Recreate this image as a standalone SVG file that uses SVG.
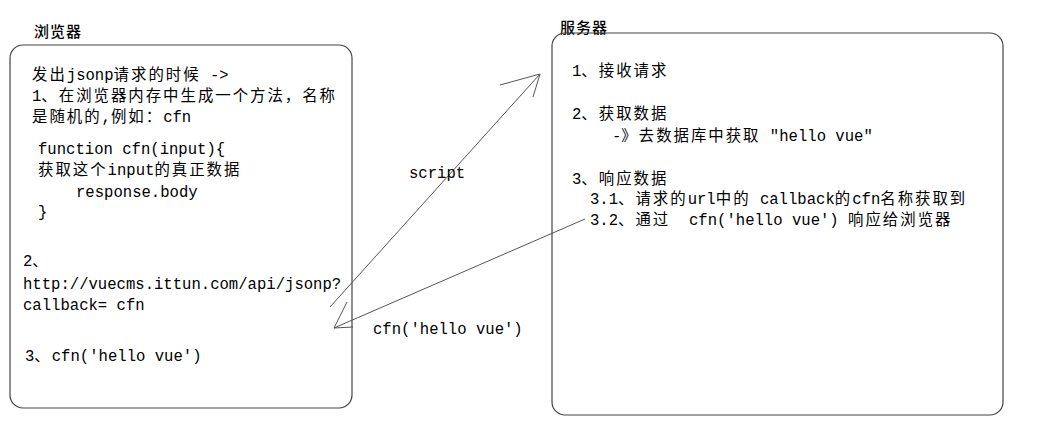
<svg xmlns="http://www.w3.org/2000/svg" width="1042" height="446" viewBox="0 0 1042 446">
<style>
.box{fill:none;stroke:#444;stroke-width:1.2}
.ln{fill:none;stroke:#555;stroke-width:1}
text{font-family:"Liberation Mono","Noto Sans CJK SC",monospace;font-size:15.6px;fill:#000;white-space:pre}
.c{font-family:"Noto Sans CJK SC","Liberation Sans",sans-serif;font-size:15.4px;letter-spacing:2px}
.t{font-family:"Noto Sans CJK SC","Liberation Sans",sans-serif;font-size:15px;font-weight:500;letter-spacing:1px}
</style>
<rect width="1042" height="446" fill="#fff"/>
<g id="browser">
<text class="t" x="34" y="37">浏览器</text>
<rect class="box" x="10" y="45" width="342" height="363" rx="13"/>
<text x="32" y="80"><tspan class="c">发出</tspan>jsonp<tspan class="c">请求的时候</tspan> -&gt;</text>
<text x="32" y="101">1<tspan class="c">、在浏览器内存中生成一个方法，名称</tspan></text>
<text x="32" y="122"><tspan class="c">是随机的</tspan>,<tspan class="c">例如：</tspan>cfn</text>
<text x="38" y="154">function cfn(input){</text>
<text x="38" y="175"><tspan class="c">获取这个</tspan>input<tspan class="c">的真正数据</tspan></text>
<text x="76" y="197">response.body</text>
<text x="38" y="217">}</text>
<text x="23" y="266">2<tspan class="c">、</tspan></text>
<text x="23" y="289">http://vuecms.ittun.com/api/jsonp?</text>
<text x="23" y="310">callback= cfn</text>
<text x="25" y="361">3<tspan class="c">、</tspan>cfn('hello vue')</text>
</g>
<g id="server">
<text class="t" x="560" y="33">服务器</text>
<rect class="box" x="552" y="33" width="451" height="382" rx="13"/>
<text x="572" y="76">1<tspan class="c">、接收请求</tspan></text>
<text x="572" y="119">2<tspan class="c">、获取数据</tspan></text>
<text x="612" y="141">-<tspan class="c">》去数据库中获取</tspan> "hello vue"</text>
<text x="572" y="184">3<tspan class="c">、响应数据</tspan></text>
<text x="590" y="204">3.1<tspan class="c">、请求的</tspan>url<tspan class="c">中的</tspan> callback<tspan class="c">的</tspan>cfn<tspan class="c">名称获取到</tspan></text>
<text x="590" y="225">3.2<tspan class="c">、通过</tspan>  cfn('hello vue') <tspan class="c">响应给浏览器</tspan></text>
</g>
<g id="connectors">
<path class="ln" d="M330,307 L540,74 M500,85 L540,74 L533,97"/>
<path class="ln" d="M585,219 L334,328 M347,302 L334,328 L353,327"/>
</g>
<g id="labels">
<text x="409" y="178">script</text>
<text x="373" y="334">cfn('hello vue')</text>
</g>
</svg>
